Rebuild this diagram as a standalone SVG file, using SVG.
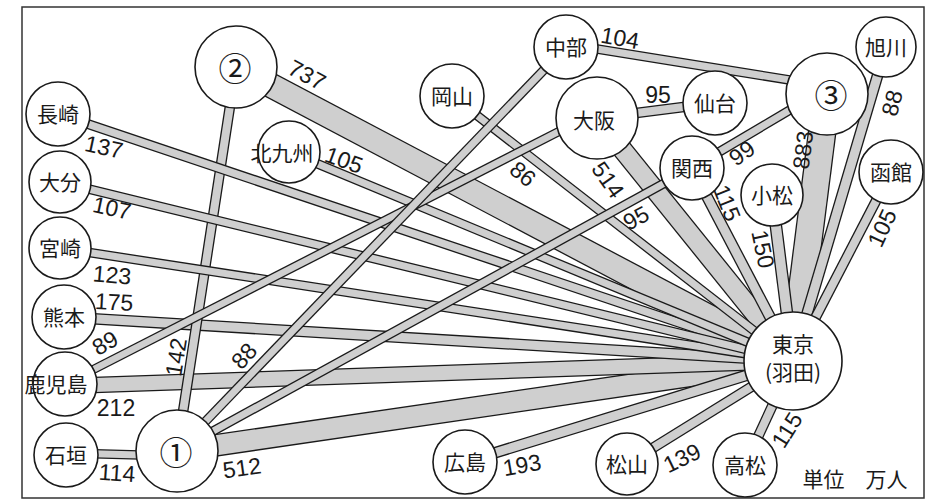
<svg xmlns="http://www.w3.org/2000/svg" width="926" height="501" viewBox="0 0 926 501">
<style>
.o{stroke:#1a1a1a;stroke-linecap:butt;fill:none}
.f{stroke:#cfcfcf;stroke-linecap:butt;fill:none}
.node circle{fill:#fff;stroke:#1a1a1a;stroke-width:1.6}
.jp{font-family:"Noto Sans CJK JP","Noto Sans CJK SC",sans-serif;font-size:21px;fill:#1a1a1a;text-anchor:middle}
.cn{font-family:"Noto Sans CJK JP","Noto Sans CJK SC",sans-serif;font-size:33px;fill:#1a1a1a;text-anchor:middle}
.num{font-family:"Liberation Sans",Arial,sans-serif;font-size:23px;fill:#1a1a1a;text-anchor:middle}
</style>
<rect x="22" y="7" width="902" height="491" fill="#fff" stroke="#333" stroke-width="1.5"/>
<g id="connectors">
<g><line class="o" x1="827" y1="94" x2="793" y2="361" stroke-width="28.6"/><line class="f" x1="827" y1="94" x2="793" y2="361" stroke-width="26"/></g>
<g><line class="o" x1="236" y1="67" x2="793" y2="361" stroke-width="25.6"/><line class="f" x1="236" y1="67" x2="793" y2="361" stroke-width="23"/></g>
<g><line class="o" x1="177" y1="451" x2="793" y2="361" stroke-width="22.6"/><line class="f" x1="177" y1="451" x2="793" y2="361" stroke-width="20"/></g>
<g><line class="o" x1="597" y1="118" x2="793" y2="361" stroke-width="20.6"/><line class="f" x1="597" y1="118" x2="793" y2="361" stroke-width="18"/></g>
<g><line class="o" x1="65" y1="386" x2="793" y2="361" stroke-width="16.6"/><line class="f" x1="65" y1="386" x2="793" y2="361" stroke-width="14"/></g>
<g><line class="o" x1="772" y1="195" x2="793" y2="361" stroke-width="12.6"/><line class="f" x1="772" y1="195" x2="793" y2="361" stroke-width="10"/></g>
<g><line class="o" x1="465" y1="462" x2="793" y2="361" stroke-width="11.6"/><line class="f" x1="465" y1="462" x2="793" y2="361" stroke-width="9"/></g>
<g><line class="o" x1="64" y1="317" x2="793" y2="361" stroke-width="11.6"/><line class="f" x1="64" y1="317" x2="793" y2="361" stroke-width="9"/></g>
<g><line class="o" x1="692" y1="168" x2="793" y2="361" stroke-width="11.6"/><line class="f" x1="692" y1="168" x2="793" y2="361" stroke-width="9"/></g>
<g><line class="o" x1="886" y1="47" x2="793" y2="361" stroke-width="11.6"/><line class="f" x1="886" y1="47" x2="793" y2="361" stroke-width="9"/></g>
<g><line class="o" x1="236" y1="67" x2="177" y2="451" stroke-width="10.6"/><line class="f" x1="236" y1="67" x2="177" y2="451" stroke-width="8"/></g>
<g><line class="o" x1="627" y1="464" x2="793" y2="361" stroke-width="10.6"/><line class="f" x1="627" y1="464" x2="793" y2="361" stroke-width="8"/></g>
<g><line class="o" x1="745" y1="465" x2="793" y2="361" stroke-width="10.6"/><line class="f" x1="745" y1="465" x2="793" y2="361" stroke-width="8"/></g>
<g><line class="o" x1="891" y1="172" x2="793" y2="361" stroke-width="10.6"/><line class="f" x1="891" y1="172" x2="793" y2="361" stroke-width="8"/></g>
<g><line class="o" x1="597" y1="118" x2="715" y2="103" stroke-width="10.6"/><line class="f" x1="597" y1="118" x2="715" y2="103" stroke-width="8"/></g>
<g><line class="o" x1="58" y1="114" x2="793" y2="361" stroke-width="10"/><line class="f" x1="58" y1="114" x2="793" y2="361" stroke-width="7.4"/></g>
<g><line class="o" x1="60" y1="248" x2="793" y2="361" stroke-width="9.6"/><line class="f" x1="60" y1="248" x2="793" y2="361" stroke-width="7"/></g>
<g><line class="o" x1="66" y1="453" x2="177" y2="456" stroke-width="9.6"/><line class="f" x1="66" y1="453" x2="177" y2="456" stroke-width="7"/></g>
<g><line class="o" x1="60" y1="182" x2="793" y2="361" stroke-width="9.6"/><line class="f" x1="60" y1="182" x2="793" y2="361" stroke-width="7"/></g>
<g><line class="o" x1="289" y1="152" x2="793" y2="361" stroke-width="9.6"/><line class="f" x1="289" y1="152" x2="793" y2="361" stroke-width="7"/></g>
<g><line class="o" x1="566" y1="44" x2="827" y2="86" stroke-width="9.6"/><line class="f" x1="566" y1="44" x2="827" y2="86" stroke-width="7"/></g>
<g><line class="o" x1="692" y1="168" x2="827" y2="88" stroke-width="9.6"/><line class="f" x1="692" y1="168" x2="827" y2="88" stroke-width="7"/></g>
<g><line class="o" x1="452" y1="96" x2="793" y2="361" stroke-width="9.6"/><line class="f" x1="452" y1="96" x2="793" y2="361" stroke-width="7"/></g>
<g><line class="o" x1="65" y1="384" x2="597" y2="112" stroke-width="9.2"/><line class="f" x1="65" y1="384" x2="597" y2="112" stroke-width="6.6"/></g>
<g><line class="o" x1="177" y1="451" x2="692" y2="168" stroke-width="9.6"/><line class="f" x1="177" y1="451" x2="692" y2="168" stroke-width="7"/></g>
<g><line class="o" x1="177" y1="451" x2="566" y2="47" stroke-width="9.6"/><line class="f" x1="177" y1="451" x2="566" y2="47" stroke-width="7"/></g>
</g>
<g id="n2" class="node"><circle cx="236" cy="67" r="41"/><text class="cn" x="235" y="81">②</text></g>
<g id="nagasaki" class="node"><circle cx="58" cy="114" r="32"/><text class="jp" x="58" y="122">長崎</text></g>
<g id="oita" class="node"><circle cx="60" cy="182" r="31"/><text class="jp" x="60" y="190">大分</text></g>
<g id="kitakyushu" class="node"><circle cx="289" cy="152" r="31"/><text class="jp" x="282" y="161">北九州</text></g>
<g id="miyazaki" class="node"><circle cx="60" cy="248" r="31"/><text class="jp" x="60" y="256">宮崎</text></g>
<g id="kumamoto" class="node"><circle cx="64" cy="317" r="32"/><text class="jp" x="64" y="325">熊本</text></g>
<g id="kagoshima" class="node"><circle cx="65" cy="384" r="32"/><text class="jp" x="56" y="392">鹿児島</text></g>
<g id="ishigaki" class="node"><circle cx="66" cy="455" r="32"/><text class="jp" x="66" y="463">石垣</text></g>
<g id="n1" class="node"><circle cx="177" cy="451" r="41"/><text class="cn" x="176" y="465">①</text></g>
<g id="okayama" class="node"><circle cx="452" cy="96" r="32"/><text class="jp" x="452" y="104">岡山</text></g>
<g id="chubu" class="node"><circle cx="566" cy="47" r="32"/><text class="jp" x="566" y="55">中部</text></g>
<g id="osaka" class="node"><circle cx="597" cy="118" r="41"/><text class="jp" x="594" y="128">大阪</text></g>
<g id="sendai" class="node"><circle cx="715" cy="103" r="32"/><text class="jp" x="715" y="111">仙台</text></g>
<g id="n3" class="node"><circle cx="827" cy="94" r="41"/><text class="cn" x="831" y="108">③</text></g>
<g id="asahikawa" class="node"><circle cx="886" cy="47" r="30"/><text class="jp" x="886" y="55">旭川</text></g>
<g id="hakodate" class="node"><circle cx="891" cy="172" r="32"/><text class="jp" x="891" y="180">函館</text></g>
<g id="kansai" class="node"><circle cx="692" cy="168" r="32"/><text class="jp" x="692" y="176">関西</text></g>
<g id="komatsu" class="node"><circle cx="772" cy="195" r="31"/><text class="jp" x="772" y="203">小松</text></g>
<g id="tokyo" class="node"><circle cx="793" cy="361" r="49"/><text class="jp" x="793" y="352">東京</text><text class="jp" x="793" y="380">(羽田)</text></g>
<g id="hiroshima" class="node"><circle cx="465" cy="462" r="32"/><text class="jp" x="465" y="470">広島</text></g>
<g id="matsuyama" class="node"><circle cx="627" cy="464" r="31"/><text class="jp" x="627" y="472">松山</text></g>
<g id="takamatsu" class="node"><circle cx="745" cy="465" r="32"/><text class="jp" x="745" y="473">高松</text></g>
<g id="labels">
<text class="num" transform="translate(307,75) rotate(28)" y="8">737</text>
<text class="num" transform="translate(104,147) rotate(12)" y="8">137</text>
<text class="num" transform="translate(112,208) rotate(12)" y="8">107</text>
<text class="num" transform="translate(344,160) rotate(20)" y="8">105</text>
<text class="num" transform="translate(112,275) rotate(5)" y="8">123</text>
<text class="num" transform="translate(114,302) rotate(3)" y="8">175</text>
<text class="num" transform="translate(105,343) rotate(-30)" y="8">89</text>
<text class="num" transform="translate(176,357) rotate(-81)" y="8">142</text>
<text class="num" transform="translate(244,356) rotate(-48)" y="8">88</text>
<text class="num" transform="translate(116,408)" y="8">212</text>
<text class="num" transform="translate(117,473) rotate(4)" y="8">114</text>
<text class="num" transform="translate(242,468) rotate(-8)" y="8">512</text>
<text class="num" transform="translate(523,174) rotate(40)" y="8">86</text>
<text class="num" transform="translate(608,180) rotate(55)" y="8">514</text>
<text class="num" transform="translate(636,218) rotate(-28)" y="8">95</text>
<text class="num" transform="translate(620,38) rotate(10)" y="8">104</text>
<text class="num" transform="translate(658,95)" y="8">95</text>
<text class="num" transform="translate(742,153) rotate(-35)" y="8">99</text>
<text class="num" transform="translate(803,150) rotate(-83)" y="8">883</text>
<text class="num" transform="translate(892,103) rotate(-75)" y="8">88</text>
<text class="num" transform="translate(882,228) rotate(-65)" y="8">105</text>
<text class="num" transform="translate(727,203) rotate(68)" y="8">115</text>
<text class="num" transform="translate(763,249) rotate(78)" y="8">150</text>
<text class="num" transform="translate(522,465) rotate(-10)" y="8">193</text>
<text class="num" transform="translate(682,458) rotate(-26)" y="8">139</text>
<text class="num" transform="translate(787,430) rotate(-58)" y="8">115</text>
<text class="jp" x="855" y="487" font-size="20">単位　万人</text>
</g>
</svg>
